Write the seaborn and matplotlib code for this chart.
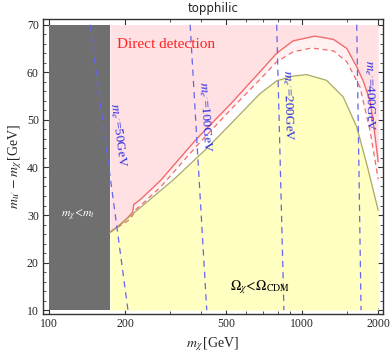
"""Topphilic dark matter parameter space: relic density, direct detection and m_e' contours."""

import matplotlib

matplotlib.use("Agg")
import matplotlib.pyplot as plt
import numpy as np
import pandas as pd
import seaborn as sns
from matplotlib.ticker import FixedLocator, NullFormatter

# ---- data ----
m_top = 174
x_edges = [100, 2000]
y_edges = [10, 70]

# direct detection bound (solid) and its projection (dashed)
red_x = [174, 190, 205, 214, 216, 230, 275, 383, 519, 682, 794, 922, 1124, 1331, 1503, 1650, 1750, 1856, 1913, 2000]
red_y = [26.4, 27.8, 29.5, 30.6, 32.2, 33.3, 37.2, 46.0, 53.2, 60.1, 64.0, 66.6, 67.6, 66.9, 65.0, 61.0, 58.0, 54.0, 49.5, 41.2]
dash_x = [174, 205, 214, 218, 230, 275, 383, 519, 682, 794, 922, 1090, 1331, 1503, 1694, 1856, 2000]
dash_y = [26.4, 28.8, 29.9, 31.0, 32.0, 35.8, 44.5, 52.0, 58.5, 62.2, 64.3, 65.1, 64.5, 62.2, 56.9, 47.8, 37.5]

# relic density boundary Omega_X = Omega_CDM
relic_x = [174, 215, 310, 420, 519, 682, 794, 922, 1043, 1250, 1455, 1645, 1800, 2000]
relic_y = [26.3, 30.3, 37.4, 44.0, 49.0, 55.5, 58.2, 59.2, 59.5, 58.3, 54.8, 48.5, 40.8, 31.0]

# m_e' contours: x at the top (y=70) and bottom (y=10)
contour_names = ["50", "100", "200", "400"]
contour_top_x = [145, 361, 794, 1645]
contour_bottom_x = [205, 420, 848, 1711]
contour_label_x = [187, 414, 876, 1841]
contour_label_y = [46.7, 50.5, 53.1, 55.0]
contour_label_rot = [-82.5, -86.5, -88.5, -89]

x_major = [100, 200, 500, 1000, 2000]
x_minor = [300, 400, 600, 700, 800, 900, 1500]
y_major = [10, 20, 30, 40, 50, 60, 70]

sns.set_theme(style="ticks")
plt.rcParams["font.family"] = ["Liberation Serif", "DejaVu Serif"]
plt.rcParams["mathtext.fontset"] = "stix"

fig = plt.figure(figsize=(3.92, 3.58), dpi=100)
ax = fig.add_axes([0.1097, 0.1229, 0.977 - 0.1097, 0.947 - 0.1229])
ax.set_facecolor("white")

red = pd.DataFrame({"x": red_x, "y": red_y})
dash = pd.DataFrame({"x": dash_x, "y": dash_y})
relic = pd.DataFrame({"x": relic_x, "y": relic_y})

# shaded regions
ax.fill_between([x_edges[0], m_top], y_edges[0], y_edges[1], color="#6f6f6f", lw=0)
ax.fill_between(red.x, red.y, y_edges[1], color="#ffe1e4", lw=0)
ax.fill(np.r_[red.x, dash.x[::-1]], np.r_[red.y, dash.y[::-1]], color="#fff1f2", lw=0)
ax.fill_between(relic.x, y_edges[0], relic.y, color="#ffffc2", lw=0)

sns.lineplot(data=red, x="x", y="y", ax=ax, color="#f26b6b", lw=1.0, sort=False)
sns.lineplot(data=dash, x="x", y="y", ax=ax, color="#f26b6b", lw=0.9, sort=False,
             dashes=False, linestyle=(0, (4, 3)))
sns.lineplot(data=relic, x="x", y="y", ax=ax, color="#a9a865", lw=0.9, sort=False)

for name, xt, xb, lx, ly, rot in zip(contour_names, contour_top_x, contour_bottom_x,
                                     contour_label_x, contour_label_y, contour_label_rot):
    ax.plot([xt, xb], [y_edges[1], y_edges[0]], color="#6565ee", lw=0.9,
            linestyle=(0, (5, 4)))
    ax.text(lx, ly, rf"$m_{{e'}}$={name}GeV", color="#2a2ae0", fontsize=9.5,
            rotation=rot, ha="center", va="center", rotation_mode="anchor")

ax.text(186, 65.9, "Direct detection", color="#ff2020", fontsize=11, ha="left", va="center")
ax.text(130, 29.9, r"$m_\chi\!<\!m_t$", color="white", fontsize=8.5, ha="center", va="center")
ax.text(682, 14.8, r"$\Omega_\chi\!<\!\Omega_{\rm CDM}$", color="black", fontsize=10,
        ha="center", va="center")

ax.set_xscale("log")
ax.set_xlim(94.6, 2089)
ax.set_ylim(9.2, 71.2)
ax.xaxis.set_major_locator(FixedLocator(x_major))
ax.xaxis.set_minor_locator(FixedLocator(x_minor))
ax.xaxis.set_minor_formatter(NullFormatter())
ax.set_xticklabels([str(v) for v in x_major])
ax.set_yticks(y_major)
ax.yaxis.set_minor_locator(FixedLocator([v for v in range(10, 71, 2) if v % 10]))
ax.tick_params(which="both", direction="in", top=True, right=True, labelsize=8.5,
               color="#333333", pad=3)
ax.tick_params(which="major", length=4.5, width=0.8)
ax.tick_params(which="minor", length=2.5, width=0.6)
for spine in ax.spines.values():
    spine.set_color("#333333")
    spine.set_linewidth(1.0)

ax.set_xlabel(r"$m_\chi\,$[GeV]", fontsize=10, labelpad=4)
ax.set_ylabel(r"$m_{u'}-m_\chi\,$[GeV]", fontsize=10, labelpad=2)
ax.set_title("topphilic", fontsize=8.5, family="DejaVu Sans", pad=5)

fig.savefig("out.png", dpi=100)
